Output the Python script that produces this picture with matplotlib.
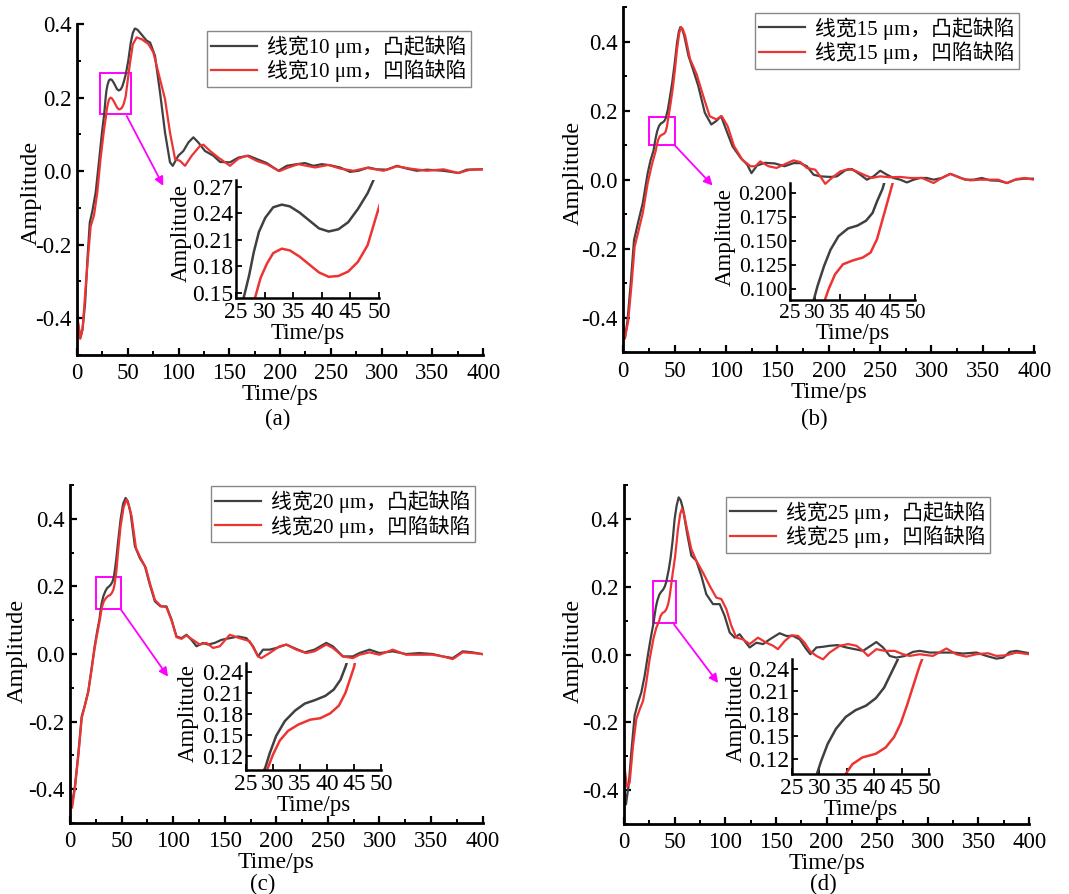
import matplotlib
matplotlib.use("Agg")
import matplotlib.pyplot as plt
from matplotlib.patches import Rectangle
from matplotlib.ticker import MultipleLocator, FormatStrFormatter

plt.rcParams['font.family'] = ['Liberation Serif', 'Noto Sans CJK SC', 'DejaVu Sans']
plt.rcParams['axes.unicode_minus'] = False

BLACK = '#404040'
RED = '#ee3333'
MAG = '#ff00ff'

# ---- (a) line width 10 um ----
a_t_bump = [0, 3.5, 5.5, 8, 10.3, 12.6, 15.2, 18.4, 21.6, 24.8,
            26.4, 27.3, 28.1, 29.0, 30.1, 31.5, 33.0, 34.4, 36.1, 37.8,
            39.5, 41.2, 42.9, 44.6, 46.3, 48.0, 48.9, 50.5, 53, 55,
            57, 59.5, 62, 68.6, 72, 76.8, 81.8, 86.7, 91.6, 94.3,
            99.8, 104.8, 109.7, 114.6, 119.5, 126, 134.3, 140.9, 150.7, 159,
            168.8, 177, 186.9, 198.4, 206.6, 216.4, 224.6, 232.8, 241, 249.3,
            259.1, 269, 277.2, 287, 295.2, 305, 315, 324.8, 334.6, 344.5,
            360.9, 375.7, 383.9, 399.7]
a_y_bump = [-0.40, -0.452, -0.43, -0.36, -0.24, -0.14, -0.108, -0.058, 0.024, 0.11,
            0.146, 0.170, 0.196, 0.219, 0.235, 0.247, 0.250, 0.248, 0.241, 0.232,
            0.223, 0.2195, 0.222, 0.230, 0.245, 0.263, 0.276, 0.30, 0.350, 0.376,
            0.388, 0.385, 0.377, 0.355, 0.35, 0.314, 0.214, 0.105, 0.024, 0.0145,
            0.042, 0.055, 0.078, 0.092, 0.078, 0.055, 0.042, 0.025, 0.024, 0.037,
            0.042, 0.033, 0.022, 0.001, 0.0145, 0.019, 0.022, 0.0145, 0.019, 0.016,
            0.01, -0.002, 0.001, 0.01, 0.005, 0.004, 0.0145, 0.007, 0.001, 0.004,
            0.001, -0.005, 0.004, 0.005]
a_t_pit = [0, 1.6, 3.2, 5.5, 8.7, 11.3, 13.5, 16.8, 20, 23.2,
           26.5, 28.4, 29.3, 30.4, 31.5, 33.0, 34.4, 36.1, 37.8, 39.5,
           41.2, 42.9, 44.6, 46.3, 48.0, 49.7, 52, 55, 58.8, 63.7,
           70.3, 75.2, 81.8, 86.7, 91.6, 96.6, 101.5, 106.4, 113, 121.2,
           124.5, 131, 139.2, 150.7, 159, 167.2, 177, 186.9, 199.3, 208.2,
           218, 226.3, 234.5, 247.6, 259.1, 272.3, 285.4, 301.8, 315, 328,
           344.5, 360.9, 375.7, 387.2, 399.7]
a_y_pit = [-0.39, -0.42, -0.456, -0.43, -0.31, -0.22, -0.15, -0.12, -0.058, 0.033,
           0.11, 0.146, 0.167, 0.183, 0.195, 0.200, 0.198, 0.191, 0.182, 0.173,
           0.168, 0.169, 0.174, 0.185, 0.204, 0.241, 0.29, 0.345, 0.364, 0.359,
           0.346, 0.323, 0.25, 0.196, 0.105, 0.033, 0.028, 0.0145, 0.042, 0.069,
           0.072, 0.055, 0.037, 0.0145, 0.034, 0.042, 0.028, 0.019, 0.0, 0.01,
           0.019, 0.0145, 0.01, 0.017, 0.007, 0.001, 0.009, 0.001, 0.013, 0.007,
           0.001, 0.005, -0.005, 0.004, 0.005]

# ---- (b) line width 15 um ----
b_t_bump = [0, 1.6, 4.1, 7.3, 10.5, 14.3, 19, 23.8, 26.5, 29.5,
            30.5, 31.8, 33.1, 34.7, 36.6, 38.5, 40.2, 41.5, 42.4, 43.5,
            45.5, 47.6, 50, 52.4, 54.2, 55.6, 57.2, 59.4, 63.5, 68.3,
            73, 79.4, 85.7, 90.5, 95.2, 100, 106.3, 114.3, 120.6, 124.8,
            130.2, 138, 147.6, 157, 165.8, 172.3, 178.7, 185.2, 191.7, 201.5,
            208, 216, 222.5, 230.7, 237.1, 243.6, 250.1, 256.6, 263, 269.6,
            276, 282.6, 289, 295.5, 302, 310, 318.3, 324.7, 332.8, 341,
            349, 357, 365.3, 373.4, 381.5, 389.6, 399.4]
b_y_bump = [-0.42, -0.46, -0.41, -0.30, -0.175, -0.126, -0.068, 0.019, 0.055, 0.0845,
            0.1034, 0.124, 0.141, 0.155, 0.163, 0.166, 0.171, 0.179, 0.191, 0.204,
            0.24, 0.28, 0.335, 0.398, 0.43, 0.442, 0.438, 0.417, 0.359, 0.316,
            0.272, 0.194, 0.16, 0.17, 0.184, 0.146, 0.097, 0.063, 0.044, 0.019,
            0.041, 0.049, 0.047, 0.039, 0.048, 0.048, 0.039, 0.0145, 0.0097, 0.008,
            0.0097, 0.027, 0.031, 0.0145, 0.0, 0.0097, 0.026, 0.0145, 0.005, 0.0,
            -0.008, 0.0, 0.005, 0.005, 0.0, 0.005, 0.017, 0.0097, 0.0, 0.0,
            0.005, -0.002, -0.003, -0.0097, 0.0, 0.003, 0.003]
b_t_pit = [0, 1.6, 4.8, 7.9, 11.1, 14.3, 19, 23.8, 28, 31.6,
           32.7, 34.0, 35.6, 37.6, 39.5, 41.1, 42.4, 43.7, 45.0, 46.3,
           48, 50, 52.4, 54.5, 56.2, 58, 60.3, 65, 71.4, 77.8,
           84.1, 90.5, 95.9, 101.6, 107.9, 115.9, 123.8, 128.6, 133.3, 141.3,
           149.2, 160.3, 165.8, 172.3, 178.7, 186.9, 191.7, 196.6, 203, 211.2,
           219.3, 225.8, 234, 242, 250, 259.9, 269.6, 279.3, 290.7, 302,
           310, 318.3, 328, 337.7, 347.4, 357, 365, 373.4, 383, 391,
           399.4]
b_y_pit = [-0.43, -0.46, -0.41, -0.31, -0.194, -0.155, -0.097, -0.01, 0.045, 0.0834,
           0.100, 0.1155, 0.126, 0.130, 0.1328, 0.138, 0.152, 0.176, 0.200, 0.225,
           0.26, 0.31, 0.379, 0.425, 0.442, 0.436, 0.417, 0.35, 0.306, 0.243,
           0.184, 0.175, 0.184, 0.155, 0.097, 0.058, 0.039, 0.039, 0.053, 0.039,
           0.034, 0.049, 0.056, 0.051, 0.034, 0.029, 0.0097, -0.012, 0.005, 0.024,
           0.031, 0.026, 0.0145, 0.005, 0.0097, 0.007, 0.008, 0.005, 0.005, -0.0097,
           0.005, 0.017, 0.005, -0.002, 0.0, 0.0, 0.0, -0.0097, 0.002, 0.005,
           0.0]

# ---- (c) line width 20 um ----
c_t_bump = [0, 1.6, 4.8, 8.1, 11.3, 14.5, 17.7, 21, 24, 26.5,
            28.6, 29.4, 30.6, 32.2, 34.1, 35.9, 37.8, 39.7, 41.25, 42.5,
            43.4, 44.8, 46.5, 49, 51.5, 53.9, 56, 58.7, 62.9, 67.7,
            72.6, 77.4, 82.3, 87.7, 93.5, 98.4, 103.2, 108, 112.9, 117.7,
            122.6, 129, 133.9, 140.3, 146.8, 154.8, 162.9, 171, 177.4, 182.3,
            187.1, 193.5, 200, 209.7, 219.4, 227.4, 237, 248.4, 254.8, 264.5,
            274.2, 280.6, 290.3, 300, 312.9, 325.8, 338.7, 351.6, 361.3, 371,
            380.6, 390.3, 399.4]
c_y_bump = [-0.43, -0.45, -0.39, -0.293, -0.185, -0.15, -0.11, -0.04, 0.025, 0.07,
            0.104, 0.124, 0.149, 0.170, 0.185, 0.195, 0.200, 0.206, 0.215, 0.229,
            0.247, 0.28, 0.33, 0.398, 0.445, 0.462, 0.452, 0.418, 0.319, 0.284,
            0.26, 0.205, 0.156, 0.141, 0.141, 0.102, 0.052, 0.047, 0.057, 0.042,
            0.023, 0.033, 0.028, 0.033, 0.042, 0.047, 0.052, 0.047, 0.023, -0.007,
            0.013, 0.013, 0.018, 0.028, 0.015, 0.005, 0.013, 0.033, 0.023, -0.007,
            -0.007, 0.003, 0.013, 0.003, 0.008, 0.0, 0.003, 0.0, -0.007, -0.012,
            0.008, 0.005, 0.0]
c_t_pit = [0, 2, 4.8, 8.1, 11.3, 14.5, 17.7, 21, 24, 26.5,
           29.1, 30.0, 31.25, 32.8, 34.7, 36.9, 38.75, 40.6, 42.2, 43.4,
           44.4, 45.0, 46.5, 49, 52, 54.8, 57, 59.7, 63.9, 68.4,
           73.5, 77.4, 82.3, 87.7, 93.5, 98.4, 103.2, 108, 112.9, 117.7,
           125.8, 132.3, 138.7, 145.2, 154.8, 164.5, 174.2, 182.3, 185.5, 193.5,
           203.2, 209.7, 219.4, 229, 237, 248.4, 254.8, 264.5, 274.2, 280.6,
           290.3, 300, 312.9, 325.8, 338.7, 351.6, 361.3, 371, 380.6, 390.3,
           399.4]
c_y_pit = [-0.44, -0.455, -0.395, -0.30, -0.19, -0.152, -0.112, -0.045, 0.02, 0.062,
           0.104, 0.122, 0.142, 0.156, 0.165, 0.172, 0.174, 0.181, 0.192, 0.210,
           0.233, 0.247, 0.30, 0.378, 0.435, 0.457, 0.44, 0.408, 0.314, 0.284,
           0.255, 0.21, 0.16, 0.143, 0.138, 0.10, 0.05, 0.045, 0.055, 0.045,
           0.028, 0.033, 0.018, 0.023, 0.057, 0.047, 0.038, -0.007, -0.012, 0.003,
           0.023, 0.028, 0.013, 0.003, 0.008, 0.028, 0.018, -0.007, -0.012, -0.002,
           0.005, -0.002, 0.013, -0.002, -0.002, -0.002, -0.007, -0.015, 0.005, 0.003,
           0.0]

# ---- (d) line width 25 um ----
d_t_bump = [0, 2, 4.9, 7.2, 10.5, 13.8, 17.1, 20.4, 23.7, 26.5,
            29.4, 30.3, 31.5, 33.0, 34.8, 36.6, 38.5, 40.3, 41.8, 43.0,
            44.2, 46, 48, 50, 52, 54, 56, 58.3, 62.2, 66.5,
            71.4, 76.4, 81.3, 87.9, 94.5, 99.4, 104.4, 109.3, 114.2, 119.2,
            124.1, 130.7, 137.3, 143.9, 153.7, 160.3, 167, 173.5, 180, 184,
            190, 196.5, 203, 211, 219.6, 227.8, 236, 242.6, 249.2, 255.8,
            262.4, 269, 277.2, 285.4, 292, 301.9, 315, 325, 334.8, 348,
            357.9, 367.7, 374.3, 381, 387.5, 400]
d_y_bump = [-0.38, -0.442, -0.378, -0.29, -0.18, -0.142, -0.112, -0.063, 0.0, 0.05,
            0.097, 0.117, 0.140, 0.160, 0.176, 0.185, 0.191, 0.201, 0.215, 0.233,
            0.251, 0.285, 0.335, 0.40, 0.44, 0.464, 0.455, 0.43, 0.36, 0.292,
            0.277, 0.232, 0.178, 0.149, 0.149, 0.114, 0.065, 0.05, 0.06, 0.04,
            0.021, 0.035, 0.031, 0.045, 0.063, 0.055, 0.055, 0.045, 0.016, 0.001,
            0.021, 0.023, 0.026, 0.028, 0.021, 0.016, 0.011, 0.024, 0.037, 0.021,
            -0.004, -0.009, -0.004, 0.008, 0.011, 0.006, 0.006, 0.006, 0.003, 0.006,
            -0.004, -0.012, -0.009, 0.008, 0.011, 0.004]
d_t_pit = [0, 3, 5.6, 8.9, 12.2, 15.5, 18.8, 22, 25.3, 29.3,
           32, 34.5, 36.0, 37.8, 40.3, 42.1, 43.6, 44.8, 46.0, 47.2,
           48.3, 48.8, 50.5, 53.3, 55.5, 57.3, 59.3, 61.6, 66.5, 71.4,
           78, 84.6, 91.2, 96.1, 101.1, 106, 111, 117.5, 124.1, 132.3,
           140.6, 147.2, 152, 158.7, 165.3, 171.9, 178.4, 183.4, 190, 196.5,
           203, 213, 221.3, 229.5, 236, 241, 249.2, 257.4, 267.3, 275.6,
           282, 292, 305, 318.4, 328, 338, 348, 359.5, 367.7, 377.6,
           387.5, 400]
d_y_pit = [-0.32, -0.39, -0.378, -0.27, -0.19, -0.162, -0.137, -0.083, -0.014, 0.05,
           0.08, 0.097, 0.113, 0.122, 0.127, 0.1355, 0.149, 0.167, 0.192, 0.2195,
           0.2445, 0.254, 0.29, 0.37, 0.415, 0.43, 0.415, 0.38, 0.311, 0.277,
           0.242, 0.203, 0.168, 0.164, 0.134, 0.085, 0.05, 0.045, 0.031, 0.05,
           0.035, 0.026, 0.016, 0.04, 0.057, 0.055, 0.035, 0.011, -0.004, -0.014,
           0.006, 0.026, 0.031, 0.026, 0.011, -0.004, 0.016, 0.011, 0.011, 0.001,
           -0.004, 0.001, -0.004, 0.018, 0.001, -0.006, 0.001, 0.004, -0.004, -0.002,
           0.006, 0.001]

widths = [10, 15, 20, 25]
captions = ['(a)', '(b)', '(c)', '(d)']

panels = [
    dict(bump=(a_t_bump, a_y_bump), pit=(a_t_pit, a_y_pit),
         rect=[0.072, 0.603, 0.380, 0.370], ylim=(-0.5, 0.4),
         inset=[0.2208, 0.6667, 0.1338, 0.132], iylim=(0.144, 0.278),
         iyticks=[0.15, 0.18, 0.21, 0.24, 0.27], ifmt='%.2f', ifs=17,
         box=(23, 0.155, 30, 0.112), arrow=((49, 0.150), (85, -0.04)),
         leg=(0.970, 0.979), ylab=(-0.086, 0.49), iylab=(-0.31, 0.55),
         cap=(0.260, 0.531)),
    dict(bump=(b_t_bump, b_y_bump), pit=(b_t_pit, b_y_pit),
         rect=[0.583, 0.606, 0.3845, 0.386], ylim=(-0.5, 0.5),
         inset=[0.7390, 0.6644, 0.1170, 0.1309], iylim=(0.089, 0.21),
         iyticks=[0.100, 0.125, 0.150, 0.175, 0.200], ifmt='%.3f', ifs=15.5,
         box=(25, 0.10, 25, 0.083), arrow=((50, 0.10), (87, -0.017)),
         leg=(0.9635, 0.983), ylab=(-0.095, 0.52), iylab=(-0.43, 0.54),
         cap=(0.762, 0.531)),
    dict(bump=(c_t_bump, c_y_bump), pit=(c_t_pit, c_y_pit),
         rect=[0.0655, 0.0794, 0.386, 0.378], ylim=(-0.5, 0.5),
         inset=[0.2301, 0.1387, 0.1263, 0.1197], iylim=(0.10, 0.253),
         iyticks=[0.12, 0.15, 0.18, 0.21, 0.24], ifmt='%.2f', ifs=17,
         box=(25, 0.133, 24.5, 0.094), arrow=((49, 0.133), (95, -0.067)),
         leg=(0.981, 0.997), ylab=(-0.102, 0.51), iylab=(-0.35, 0.53),
         cap=(0.246, 0.0105)),
    dict(bump=(d_t_bump, d_y_bump), pit=(d_t_pit, d_y_pit),
         rect=[0.5837, 0.0783, 0.379, 0.379], ylim=(-0.5, 0.5),
         inset=[0.7409, 0.1342, 0.1282, 0.1286], iylim=(0.10, 0.253),
         iyticks=[0.12, 0.15, 0.18, 0.21, 0.24], ifmt='%.2f', ifs=17,
         box=(28.6, 0.092, 22.8, 0.124), arrow=((49.4, 0.089), (93, -0.084)),
         leg=(0.904, 0.965), ylab=(-0.099, 0.51), iylab=(-0.33, 0.53),
         cap=(0.770, 0.0105)),
]

fig = plt.figure(figsize=(10.69, 8.94), dpi=100)

for k, p in enumerate(panels):
    ax = fig.add_axes(p['rect'])
    w = widths[k]
    ax.plot(*p['bump'], color=BLACK, lw=1.6, label='线宽%d μm，凸起缺陷' % w)
    ax.plot(*p['pit'], color=RED, lw=1.6, label='线宽%d μm，凹陷缺陷' % w)
    ax.set_xlim(0, 400)
    ax.set_ylim(*p['ylim'])
    ax.xaxis.set_major_locator(MultipleLocator(50))
    ax.xaxis.set_minor_locator(MultipleLocator(25))
    ax.yaxis.set_major_locator(MultipleLocator(0.2))
    ax.yaxis.set_minor_locator(MultipleLocator(0.1))
    ax.yaxis.set_major_formatter(FormatStrFormatter('%.1f'))
    for s in ['top', 'right']:
        ax.spines[s].set_visible(False)
    for s in ['left', 'bottom']:
        ax.spines[s].set_linewidth(2.0)
    ax.tick_params(which='major', direction='in', length=5, width=1.6,
                   labelsize=16.5, pad=4)
    ax.tick_params(which='minor', direction='in', length=3, width=1.4)
    ax.tick_params(axis='x', which='major', pad=6)
    ax.set_xlabel('Time/ps', fontsize=17, labelpad=0)
    ax.set_ylabel('Amplitude', fontsize=17.5)
    ax.yaxis.set_label_coords(*p['ylab'])

    bx, by, bw, bh = p['box']
    ax.add_patch(Rectangle((bx, by), bw, bh, fill=False, edgecolor=MAG, lw=1.4))
    (x0, y0), (x1, y1) = p['arrow']
    ax.annotate('', xy=(x1, y1), xytext=(x0, y0),
                arrowprops=dict(arrowstyle='-|>', color=MAG, lw=1.3,
                                mutation_scale=13, shrinkA=0, shrinkB=0))

    leg = ax.legend(loc='upper right', bbox_to_anchor=p['leg'], fontsize=15,
                    frameon=True, fancybox=False, framealpha=1, borderaxespad=0,
                    borderpad=0.2, labelspacing=0.1, handlelength=2.2,
                    handletextpad=0.5)
    leg.get_frame().set_edgecolor('#888888')
    leg.get_frame().set_linewidth(1.0)

    fig.text(p['cap'][0], p['cap'][1], captions[k], fontsize=16.5,
             ha='center', va='center')

    # zoomed view of the 25-50 ps window
    ins = fig.add_axes(p['inset'])
    ins.plot(*p['bump'], color=BLACK, lw=1.8)
    ins.plot(*p['pit'], color=RED, lw=1.8)
    ins.set_xlim(25, 50)
    ins.set_ylim(*p['iylim'])
    ins.set_xticks([25, 30, 35, 40, 45, 50])
    ins.set_yticks(p['iyticks'])
    ins.yaxis.set_major_formatter(FormatStrFormatter(p['ifmt']))
    ins.patch.set_alpha(0)
    for s in ['top', 'right']:
        ins.spines[s].set_visible(False)
    for s in ['left', 'bottom']:
        ins.spines[s].set_linewidth(1.8)
    ins.tick_params(direction='in', length=4, width=1.3, labelsize=p['ifs'], pad=2)
    ins.tick_params(axis='x', pad=3)
    ins.set_xlabel('Time/ps', fontsize=16.5, labelpad=0)
    ins.set_ylabel('Amplitude', fontsize=16.5)
    ins.yaxis.set_label_coords(*p['iylab'])

fig.savefig('out.png', dpi=100)
